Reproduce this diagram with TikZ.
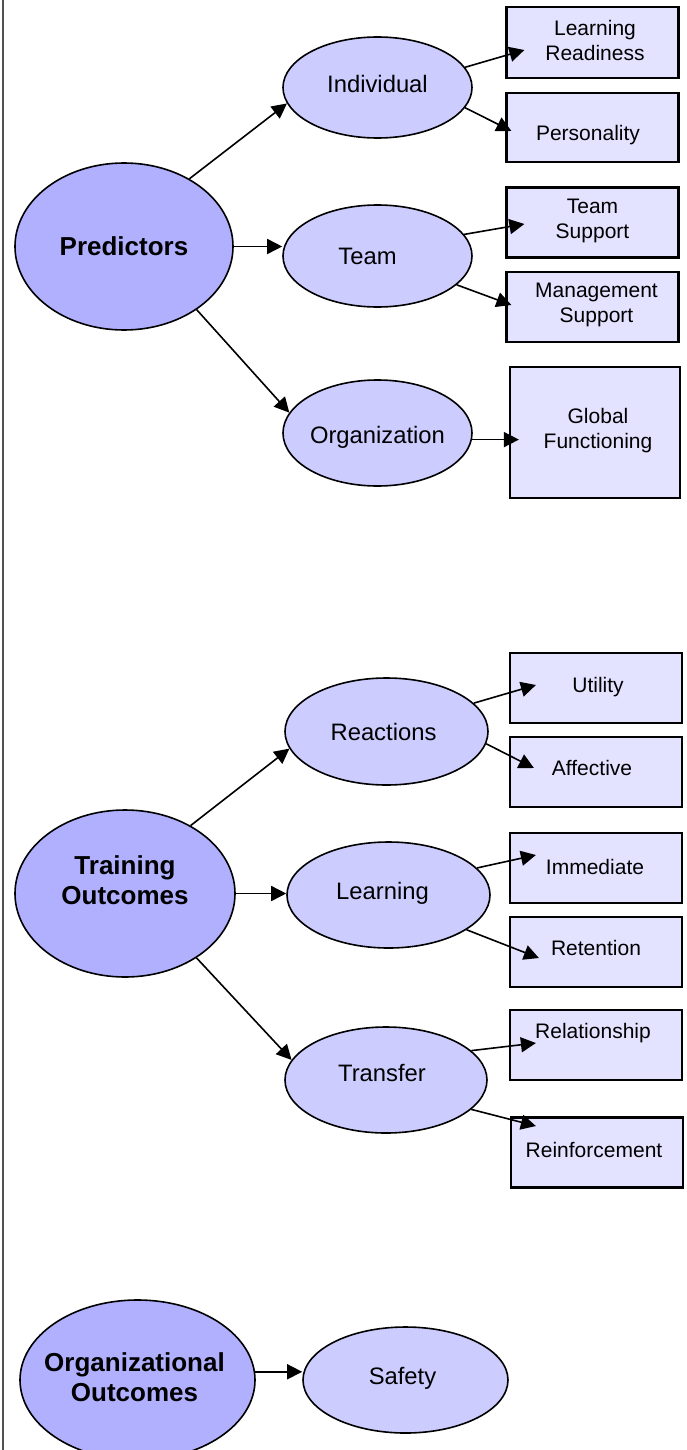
\documentclass[tikz,border=0pt]{standalone}
\usepackage{fontspec}
\setmainfont{Liberation Sans}
\usetikzlibrary{shapes.geometric,arrows.meta,calc}
\definecolor{bigfill}{RGB}{176,176,255}
\definecolor{midfill}{RGB}{204,204,255}
\definecolor{boxfill}{RGB}{227,227,255}
\definecolor{framegray}{RGB}{80,80,80}
\begin{document}
\begin{tikzpicture}[x=0.5pt,y=-0.5pt,
  bigell/.style={ellipse,draw=black,line width=0.8pt,fill=bigfill,inner sep=0pt},
  midell/.style={ellipse,draw=black,line width=0.8pt,fill=midfill,inner sep=0pt},
  itembox/.style={rectangle,draw=black,line width=1.1pt,fill=boxfill,inner sep=0pt,minimum width=86pt,minimum height=35pt},
  bigtxt/.style={font=\fontsize{13}{15}\selectfont\bfseries,align=center,inner sep=0pt},
  midtxt/.style={font=\fontsize{11.9}{14}\selectfont,inner sep=0pt},
  boxtxt/.style={font=\fontsize{10.5}{12.5}\selectfont,align=center,inner sep=0pt},
  arr/.style={line width=0.8pt,-{Triangle[length=7.5pt,width=7.5pt]}}]

\path[use as bounding box] (0,0) rectangle (686,1450);
\clip (0,0) rectangle (686,1450);

% page frame on the left
\draw[framegray,line width=1pt] (3,0) -- (3,1450);

% ---------------- predictors ----------------
\node[bigell,minimum width=109pt,minimum height=83.5pt,label={[bigtxt]center:Predictors}] (pred) at (124,246.5) {};
\node[midell,minimum width=94.5pt,minimum height=50.5pt,label={[midtxt,yshift=2pt]center:Individual}] (ind) at (377.5,87.5) {};
\node[midell,minimum width=94.5pt,minimum height=51pt,label={[midtxt,xshift=-5pt]center:Team}] (team) at (377.5,256) {};
\node[midell,minimum width=94.5pt,minimum height=53pt,label={[midtxt,yshift=-2pt]center:Organization}] (org) at (377.5,433) {};

\node[itembox,minimum height=35.5pt,label={[boxtxt,xshift=1.25pt,yshift=1pt]center:Learning\\Readiness}] (lr) at (592.5,42.5) {};
\node[itembox,minimum height=34.5pt,label={[boxtxt,xshift=-2.25pt,yshift=-3.75pt]center:Personality}] (pers) at (592.5,127.5) {};
\node[itembox,label={[boxtxt,yshift=0.75pt]center:Team\\Support}] (ts) at (592.5,222.5) {};
\node[itembox,label={[boxtxt,xshift=2pt,yshift=1.25pt]center:Management\\Support}] (ms) at (592.5,307) {};
\node[itembox,minimum width=85pt,minimum height=65.5pt,label={[boxtxt,xshift=1.5pt,yshift=1pt]center:Global\\Functioning}] (gf) at (595,432.5) {};

\draw[arr] (pred.46) -- (ind.190);
\draw[arr] (pred.east) -- (pred.east -| team.west);
\draw[arr] (pred.-41) -- (org.167);
\draw[arr] (ind.13) -- ($(lr.west)+(19,7.5)$);
\draw[arr] (ind.-13) -- ($(pers.west)+(6,3.5)$);
\draw[arr] (team.14) -- ($(ts.west)+(19,1.5)$);
\draw[arr] (team.-20) -- ($(ms.west)+(6,-2)$);
\draw[arr] (org.-4) -- ($(org.-4 -| gf.west)+(10,0)$);

% ---------------- training outcomes ----------------
\node[bigell,minimum width=110pt,minimum height=83.5pt,label={[bigtxt,yshift=6.75pt]center:Training\\Outcomes}] (tro) at (125,893.5) {};
\node[midell,minimum width=101.5pt,minimum height=53.5pt,label={[midtxt,xshift=-1.5pt]center:Reactions}] (rea) at (386.5,731.5) {};
\node[midell,minimum width=101.5pt,minimum height=53pt,label={[midtxt,xshift=-3pt,yshift=1pt]center:Learning}] (lea) at (388.5,895) {};
\node[midell,minimum width=101pt,minimum height=53pt,label={[midtxt,xshift=-2pt,yshift=3.5pt]center:Transfer}] (tra) at (386,1080) {};

\node[itembox,label={[boxtxt,xshift=1pt,yshift=0.5pt]center:Utility}] (ut) at (596,688) {};
\node[itembox,label={[boxtxt,xshift=-2pt,yshift=2pt]center:Affective}] (af) at (596,772) {};
\node[itembox,label={[boxtxt,xshift=-0.5pt,yshift=0.5pt]center:Immediate}] (im) at (596,868) {};
\node[itembox,label={[boxtxt,yshift=2pt]center:Retention}] (ret) at (596,952) {};
\node[itembox,label={[boxtxt,xshift=-1.5pt,yshift=6pt]center:Relationship}] (rel) at (596,1045) {};
\node[itembox,label={[boxtxt,xshift=-1.5pt,yshift=1.25pt]center:Reinforcement}] (rei) at (597,1152.5) {};

\draw[arr] (tro.46) -- (rea.190);
\draw[arr] (tro.east) -- (tro.east -| lea.west);
\draw[arr] (tro.-42) -- (tra.168);
\draw[arr] (rea.18) -- ($(ut.west)+(27,-3)$);
\draw[arr] (rea.-7) -- ($(af.west)+(25,-4)$);
\draw[arr] (lea.17) -- ($(im.west)+(27,-13)$);
\draw[arr] (lea.-24) -- ($(ret.west)+(30,6)$);
\draw[arr] (tra.19) -- ($(rel.west)+(27,-2)$);
\draw[arr] (tra.-19) -- ($(rei.west)+(26,-26.5)$);

% ---------------- organizational outcomes ----------------
\node[bigell,minimum width=117.5pt,minimum height=80pt,label={[bigtxt,xshift=-1.5pt,yshift=1.5pt]center:Organizational\\Outcomes}] (oo) at (137.5,1380) {};
\node[midell,minimum width=102.5pt,minimum height=53pt,label={[midtxt,xshift=-1.5pt,yshift=1pt]center:Safety}] (saf) at (405.5,1380) {};
\draw[arr] (oo.4) -- (oo.4 -| saf.west);
\end{tikzpicture}
\end{document}
